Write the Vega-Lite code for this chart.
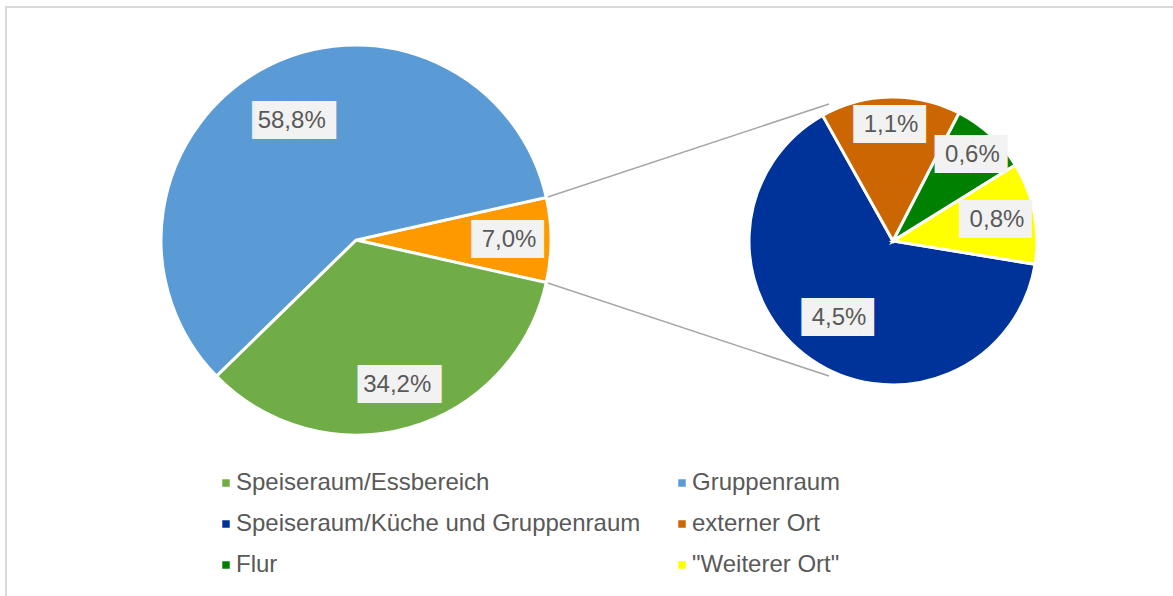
{
  "$schema": "https://vega.github.io/schema/vega-lite/v6.json",
  "width": 1168,
  "height": 590,
  "autosize": {"type": "none"},
  "padding": {"left": 6, "top": 7, "right": -1, "bottom": -1},
  "background": "white",
  "config": {"view": {"stroke": "#D9D9D9", "strokeWidth": 2}},
  "datasets": {
    "main": [
      {"cat": "Sonstige", "label": "7,0%", "value": 7.0, "k": 1},
      {"cat": "Speiseraum/Essbereich", "label": "34,2%", "value": 34.2, "k": 2},
      {"cat": "Gruppenraum", "label": "58,8%", "value": 58.8, "k": 3}
    ],
    "sub": [
      {"cat": "Speiseraum/Küche und Gruppenraum", "label": "4,5%", "value": 4.5, "k": 1},
      {"cat": "externer Ort", "label": "1,1%", "value": 1.1, "k": 2},
      {"cat": "Flur", "label": "0,6%", "value": 0.6, "k": 3},
      {"cat": "\"Weiterer Ort\"", "label": "0,8%", "value": 0.8, "k": 4}
    ]
  },
  "resolve": {"scale": {"theta": "independent"}},
  "layer": [
    {
      "data": {"values": [{"linie": "oben"}]},
      "mark": {"type": "rule", "color": "#A6A6A6", "strokeWidth": 1.5},
      "encoding": {
        "x": {"datum": 546.3, "type": "quantitative", "scale": {"domain": [6, 1174], "nice": false, "zero": false}, "axis": null},
        "y": {"datum": 197.5, "type": "quantitative", "scale": {"domain": [7, 597], "nice": false, "zero": false, "reverse": true}, "axis": null},
        "x2": {"datum": 829},
        "y2": {"datum": 104}
      }
    },
    {
      "data": {"values": [{"linie": "unten"}]},
      "mark": {"type": "rule", "color": "#A6A6A6", "strokeWidth": 1.5},
      "encoding": {
        "x": {"datum": 546.3, "type": "quantitative", "scale": {"domain": [6, 1174], "nice": false, "zero": false}, "axis": null},
        "y": {"datum": 282.5, "type": "quantitative", "scale": {"domain": [7, 597], "nice": false, "zero": false, "reverse": true}, "axis": null},
        "x2": {"datum": 829},
        "y2": {"datum": 376}
      }
    },
    {
      "data": {"name": "main"},
      "mark": {"type": "arc", "outerRadius": 195, "stroke": "white", "strokeWidth": 3},
      "encoding": {
        "x": {"datum": 356, "type": "quantitative", "scale": {"domain": [6, 1174], "nice": false, "zero": false}, "axis": null},
        "y": {"datum": 240, "type": "quantitative", "scale": {"domain": [7, 597], "nice": false, "zero": false, "reverse": true}, "axis": null},
        "theta": {"field": "value", "type": "quantitative", "stack": true, "scale": {"range": [1.35089, 7.63408]}},
        "order": {"field": "k", "type": "quantitative"},
        "color": {
          "field": "cat", "type": "nominal",
          "scale": {
            "domain": ["Speiseraum/Essbereich", "Speiseraum/Küche und Gruppenraum", "Flur", "Gruppenraum", "externer Ort", "\"Weiterer Ort\"", "Sonstige"],
            "range": ["#70AD47", "#003399", "#008000", "#5B9BD5", "#CC6600", "#FFFF00", "#FF9900"]
          },
          "legend": {
            "values": ["Speiseraum/Essbereich", "Speiseraum/Küche und Gruppenraum", "Flur", "Gruppenraum", "externer Ort", "\"Weiterer Ort\""],
            "title": null, "orient": "none", "legendX": 208, "legendY": 464, "columns": 2,
            "columnPadding": 29, "rowPadding": 17, "padding": 0,
            "symbolType": "square", "symbolSize": 56, "symbolStrokeWidth": 0,
            "labelFont": "Liberation Sans", "labelFontSize": 24, "labelColor": "#595959", "labelOffset": -2, "labelLimit": 800
          }
        }
      }
    },
    {
      "data": {"name": "sub"},
      "mark": {"type": "arc", "outerRadius": 144, "stroke": "white", "strokeWidth": 3},
      "encoding": {
        "x": {"datum": 893, "type": "quantitative", "scale": {"domain": [6, 1174], "nice": false, "zero": false}, "axis": null},
        "y": {"datum": 241, "type": "quantitative", "scale": {"domain": [7, 597], "nice": false, "zero": false, "reverse": true}, "axis": null},
        "theta": {"field": "value", "type": "quantitative", "stack": true, "scale": {"range": [1.73311, 8.0163]}},
        "order": {"field": "k", "type": "quantitative"},
        "color": {"field": "cat", "type": "nominal"}
      }
    },
    {
      "data": {"name": "main"},
      "mark": {"type": "text", "font": "DejaVu Sans Mono", "fontSize": 32, "fill": "#F2F2F2", "align": "center", "baseline": "middle", "dx": 1},
      "encoding": {
        "x": {"datum": 356, "type": "quantitative", "scale": {"domain": [6, 1174], "nice": false, "zero": false}, "axis": null},
        "y": {"datum": 240, "type": "quantitative", "scale": {"domain": [7, 597], "nice": false, "zero": false, "reverse": true}, "axis": null},
        "theta": {"field": "value", "type": "quantitative", "stack": true, "scale": {"range": [1.35089, 7.63408]}},
        "order": {"field": "k", "type": "quantitative"},
        "detail": {"field": "cat", "type": "nominal"},
        "radius": {"value": {"expr": "datum.k == 1 ? 153 : datum.k == 2 ? 151 : 135"}},
        "text": {"condition": {"test": "length(datum.label) > 4", "value": "▕████▎"}, "value": "███▊"}
      }
    },
    {
      "data": {"name": "main"},
      "mark": {"type": "text", "font": "Liberation Sans", "fontSize": 24, "fill": "#595959", "align": "center", "baseline": "middle"},
      "encoding": {
        "x": {"datum": 356, "type": "quantitative", "scale": {"domain": [6, 1174], "nice": false, "zero": false}, "axis": null},
        "y": {"datum": 240, "type": "quantitative", "scale": {"domain": [7, 597], "nice": false, "zero": false, "reverse": true}, "axis": null},
        "theta": {"field": "value", "type": "quantitative", "stack": true, "scale": {"range": [1.35089, 7.63408]}},
        "order": {"field": "k", "type": "quantitative"},
        "detail": {"field": "cat", "type": "nominal"},
        "radius": {"value": {"expr": "datum.k == 1 ? 153 : datum.k == 2 ? 151 : 135"}},
        "text": {"field": "label", "type": "nominal"}
      }
    },
    {
      "data": {"name": "sub"},
      "mark": {"type": "text", "font": "DejaVu Sans Mono", "fontSize": 32, "fill": "#F2F2F2", "align": "center", "baseline": "middle", "dx": 1},
      "encoding": {
        "x": {"datum": 893, "type": "quantitative", "scale": {"domain": [6, 1174], "nice": false, "zero": false}, "axis": null},
        "y": {"datum": 241, "type": "quantitative", "scale": {"domain": [7, 597], "nice": false, "zero": false, "reverse": true}, "axis": null},
        "theta": {"field": "value", "type": "quantitative", "stack": true, "scale": {"range": [1.73311, 8.0163]}},
        "order": {"field": "k", "type": "quantitative"},
        "detail": {"field": "cat", "type": "nominal"},
        "radius": {"value": {"expr": "datum.k == 1 ? 94 : datum.k == 2 ? 116 : datum.k == 3 ? 117 : 106"}},
        "text": {"value": "███▊"}
      }
    },
    {
      "data": {"name": "sub"},
      "mark": {"type": "text", "font": "Liberation Sans", "fontSize": 24, "fill": "#595959", "align": "center", "baseline": "middle"},
      "encoding": {
        "x": {"datum": 893, "type": "quantitative", "scale": {"domain": [6, 1174], "nice": false, "zero": false}, "axis": null},
        "y": {"datum": 241, "type": "quantitative", "scale": {"domain": [7, 597], "nice": false, "zero": false, "reverse": true}, "axis": null},
        "theta": {"field": "value", "type": "quantitative", "stack": true, "scale": {"range": [1.73311, 8.0163]}},
        "order": {"field": "k", "type": "quantitative"},
        "detail": {"field": "cat", "type": "nominal"},
        "radius": {"value": {"expr": "datum.k == 1 ? 94 : datum.k == 2 ? 116 : datum.k == 3 ? 117 : 106"}},
        "text": {"field": "label", "type": "nominal"}
      }
    }
  ]
}
